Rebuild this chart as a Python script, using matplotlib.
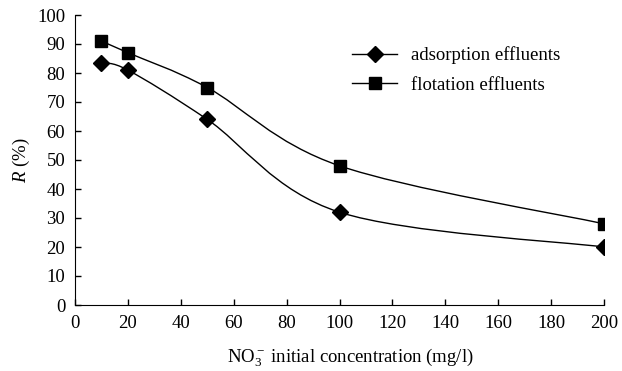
import matplotlib
matplotlib.use("Agg")
import matplotlib.pyplot as plt
from matplotlib.path import Path
from matplotlib.patches import PathPatch

# values
conc = [10, 20, 50, 100, 200]
adsorption = [83.5, 81, 64, 32, 20]
flotation = [91, 87, 75, 48, 28]
xticks = [0, 20, 40, 60, 80, 100, 120, 140, 160, 180, 200]
yticks = [0, 10, 20, 30, 40, 50, 60, 70, 80, 90, 100]

plt.rcParams['font.family'] = 'Liberation Serif'
plt.rcParams['mathtext.fontset'] = 'custom'
plt.rcParams['mathtext.rm'] = 'Liberation Serif'
plt.rcParams['mathtext.it'] = 'Liberation Serif:italic'
plt.rcParams['font.size'] = 13.5


def smooth_path(xs, ys):
    # Catmull-Rom style bezier through the points (like spreadsheet smoothed lines)
    pts = list(zip(xs, ys))
    verts = [pts[0]]
    codes = [Path.MOVETO]
    n = len(pts)
    for i in range(n - 1):
        p0 = pts[i - 1] if i > 0 else pts[i]
        p1 = pts[i]
        p2 = pts[i + 1]
        p3 = pts[i + 2] if i + 2 < n else pts[i + 1]
        c1 = (p1[0] + (p2[0] - p0[0]) / 6, p1[1] + (p2[1] - p0[1]) / 6)
        c2 = (p2[0] - (p3[0] - p1[0]) / 6, p2[1] - (p3[1] - p1[1]) / 6)
        verts += [c1, c2, p2]
        codes += [Path.CURVE4] * 3
    return Path(verts, codes)


fig = plt.figure(figsize=(6.22, 3.71), dpi=100)
ax = fig.add_axes([75 / 622, 1 - 305 / 371, 529 / 622, 290 / 371])

for ys, mk, ms, lab in [(adsorption, 'D', 8, 'adsorption effluents'),
                        (flotation, 's', 8, 'flotation effluents')]:
    ax.add_patch(PathPatch(smooth_path(conc, ys), facecolor='none',
                           edgecolor='black', lw=1.0))
    ax.plot(conc, ys, linestyle='none', marker=mk, ms=ms, color='black')
    ax.plot([], [], color='black', lw=1.0, marker=mk, ms=ms, label=lab)

ax.set_xlim(0, 200)
ax.set_ylim(0, 100)
ax.set_xticks(xticks)
ax.set_yticks(yticks)
ax.tick_params(direction='in', length=4.5, width=1)
ax.tick_params(axis='x', pad=7)
ax.tick_params(axis='y', pad=7)
ax.spines['top'].set_visible(False)
ax.spines['right'].set_visible(False)
ax.set_xlabel(r'NO$_3^-$ initial concentration (mg/l)', labelpad=10)
ax.xaxis.set_label_coords((350 - 75) / 529, -0.143)
ax.set_ylabel(r'$R$ (%)', labelpad=4)

ax.legend(loc='upper left', bbox_to_anchor=(0.492, 0.95), frameon=False,
          handlelength=2.4, labelspacing=0.65, handletextpad=0.75)

fig.savefig('out.png', dpi=100)
